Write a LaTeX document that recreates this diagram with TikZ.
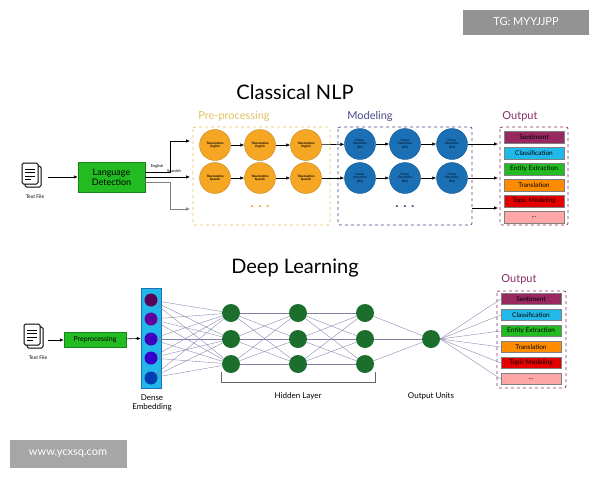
\documentclass[tikz,border=0pt]{standalone}
\usepackage{fontspec}
\setmainfont{Lato}
\usetikzlibrary{arrows.meta}
\definecolor{lgreen}{HTML}{22BB22}
\definecolor{dgreen}{HTML}{1B6E2C}
\definecolor{orng}{HTML}{F5A623}
\definecolor{blu}{HTML}{1A6FB5}
\definecolor{yel}{HTML}{E2C060}
\definecolor{navy}{HTML}{4A4A8A}
\definecolor{purp}{HTML}{8B2D6B}
\definecolor{cyanb}{HTML}{22B8EA}
\tikzset{
 arr/.style={-{Latex[length=4pt,width=3.5pt]},line width=0.6pt},
 tok/.style={circle,minimum size=31pt,inner sep=0,fill=orng,draw=orng!80!black,align=center,font=\fontsize{3}{3.5}\selectfont\bfseries},
 fe/.style={circle,minimum size=31pt,inner sep=0,fill=blu,draw=blu!80!black,align=center,font=\fontsize{3}{3.5}\selectfont,text=black},
 hid/.style={circle,minimum size=18pt,inner sep=0,fill=dgreen},
 emb/.style={circle,minimum size=13pt,inner sep=0,fill=#1},
 out/.style={minimum width=60pt,minimum height=12pt,inner sep=0,fill=#1,draw=gray,font=\fontsize{6.5}{7}\selectfont},
 outs/.style={out=#1,minimum height=11pt},
 nn/.style={draw=navy!70,line width=0.35pt},
 doc/.pic={\draw[line width=1pt,fill=white,rounded corners=1.5pt] (-8,-10) rectangle (8,11);
   \draw[line width=1pt,fill=white,rounded corners=1.5pt] (-11,-13) rectangle (5,8);
   \foreach \yy/\l in {-7/10,-3.5/10,0/10,3.5/6}\draw[line width=1pt] (-8,\yy)--++(\l,0);},
 title/.style={font=\fontsize{20}{22}\selectfont},
 sec/.style={font=\fontsize{11}{12}\selectfont},
 lab/.style={font=\fontsize{8}{9}\selectfont},
}
\begin{document}
\begin{tikzpicture}[x=1pt,y=-1pt]
\useasboundingbox[fill=white] (0,0) rectangle (600,480);
% watermarks
\node[fill=gray!85,text=white,minimum width=126pt,minimum height=25pt,font=\fontsize{11}{12}\selectfont] (wm1) at (526,22) {TG: MYYJJPP};
\node[fill=gray!70,text=white,minimum width=117pt,minimum height=28pt,font=\fontsize{11}{12}\selectfont] (wm2) at (68,454) {www.ycxsq.com};
% ---------- Classical NLP
\node[title] (t1) at (295,92) {Classical NLP};
\pic at (33,176) {doc};
\node[font=\fontsize{5}{6}\selectfont] (tf1) at (35,197) {Text File};
\coordinate (tfr1) at (48,177);
\node[fill=lgreen,draw=lgreen!70!black,minimum width=67pt,minimum height=30pt,align=center,font=\fontsize{9}{10}\selectfont] (ld) at (111.5,177) {Language\\Detection};
\draw[arr] (tfr1) -- (ld);
\draw[dashed,draw=yel,line width=0.7pt,rounded corners=2pt] (193,127) rectangle (330,225);
\node[sec,text=yel] (pp) at (234,116) {Pre-processing};
\draw[dashed,draw=navy,line width=0.7pt,rounded corners=2pt] (338,127) rectangle (472,225);
\node[sec,text=navy] (md) at (370,116) {Modeling};
\draw[dashed,draw=purp,line width=0.7pt,rounded corners=2pt] (500,127) rectangle (568,225);
\node[sec,text=purp] (o1) at (520,116) {Output};
\foreach \i/\x in {1/215,2/260,3/306}{
 \node[tok] (e\i) at (\x,145) {Tokenization\\English};
 \node[tok] (s\i) at (\x,178) {Tokenization\\Spanish};}
\foreach \i/\x in {1/360,2/405,3/452}{
 \node[fe] (fa\i) at (\x,144) {Future\\Extraction\\(EN)};
 \node[fe] (fb\i) at (\x,178) {Future\\Extraction\\(EN)};}
\coordinate (pin1) at (190,141); \coordinate (pin2) at (190,177); \coordinate (pin3) at (190,209);
\draw[arr] (ld.east|-0,172) -- (170,172) |- (pin1);
\draw[arr] (ld.east|-0,177) -- (pin2);
\draw[arr,gray] (ld.east|-0,182) -- (170,182) |- (pin3);
\node[font=\fontsize{4}{4}\selectfont,anchor=south] (en) at (157,171.5) {English};
\node[font=\fontsize{4}{4}\selectfont,anchor=south] (sp) at (174,176.5) {Spanish};
\draw[arr] (e1)--(e2); \draw[arr] (e2)--(e3); \draw[arr] (s1)--(s2); \draw[arr] (s2)--(s3);
\draw[arr] (fa1)--(fa2); \draw[arr] (fa2)--(fa3); \draw[arr] (fb1)--(fb2); \draw[arr] (fb2)--(fb3);
\draw[arr] (e3)--(fa1); \draw[arr] (s3)--(fb1);
\node[text=orng,font=\fontsize{14}{14}\selectfont\bfseries] (d1) at (260,207) {. . .};
\node[text=navy,font=\fontsize{14}{14}\selectfont\bfseries] (d2) at (405,207) {. . .};
\coordinate (m1) at (498,144); \coordinate (m2) at (498,178); \coordinate (m3) at (498,208);
\draw[arr] (fa3) -- (m1); \draw[arr] (fb3) -- (m2); \draw[arr] (472,208) -- (m3);
\node[out=purp!90!red] (a1) at (534,137) {Sentiment};
\node[out=cyanb] (a2) at (534,153) {Classification};
\node[out=lgreen] (a3) at (534,169) {Entity Extraction};
\node[out=orange!90!yellow] (a4) at (534,185) {Translation};
\node[out=red!90!black] (a5) at (534,201) {Topic Modeling};
\node[out=red!35] (a6) at (534,217) {...};
% ---------- Deep Learning
\node[title] (t2) at (295,268) {Deep Learning};
\pic at (35,337) {doc};
\node[font=\fontsize{5}{6}\selectfont] (tf2) at (38,358) {Text File};
\coordinate (tfr2) at (48,340);
\node[fill=lgreen,draw=lgreen!70!black,minimum width=62pt,minimum height=15pt,inner sep=0,font=\fontsize{7}{8}\selectfont] (pr) at (95,340) {Preprocessing};
\draw[arr] (tfr2) -- (pr);
\node[fill=cyanb,draw=blu,minimum width=20pt,minimum height=100pt,inner sep=0] (eb) at (151,338) {};
\draw[arr] (pr) -- (eb);
\foreach \i/\y/\c in {1/300/violet!70!black,2/319/violet!75!blue,3/339/blue!50!violet,4/358/blue!60!violet,5/378/blue!65!cyan!70!black}
  \node[emb=\c] (x\i) at (151,\y) {};
\foreach \j/\x in {1/231,2/298,3/365}
 \foreach \k/\y in {1/313,2/339,3/364}
  \node[hid] (h\j\k) at (\x,\y) {};
\node[hid] (ou) at (431,339) {};
\foreach \i in {1,...,5}\foreach \k in {1,2,3}\draw[nn] (x\i)--(h1\k);
\foreach \a in {1,2,3}\foreach \b in {1,2,3}{\draw[nn] (h1\a)--(h2\b);\draw[nn] (h2\a)--(h3\b);}
\foreach \k in {1,2,3}\draw[nn] (h3\k)--(ou);
\draw[line width=0.6pt,gray!80!black] (221,372) -- (221,382) -- (375,382) -- (375,372);
\node[lab] (hl) at (298,396) {Hidden Layer};
\node[lab,align=center] (de) at (152,403) {Dense\\Embedding};
\node[lab] (ouL) at (431,396) {Output Units};
\draw[dashed,draw=purp,line width=0.7pt,rounded corners=2pt] (497,291) rectangle (566,388);
\node[sec,text=purp] (o2) at (519,279) {Output};
\node[outs=purp!90!red] (b1) at (531,299) {Sentiment};
\node[outs=cyanb] (b2) at (531,315) {Classification};
\node[outs=lgreen] (b3) at (531,331) {Entity Extraction};
\node[outs=orange!90!yellow] (b4) at (531,347) {Translation};
\node[outs=red!90!black] (b5) at (531,363) {Topic Modeling};
\node[outs=red!35] (b6) at (531,379) {...};
\foreach \i in {1,...,6}\draw[nn] (ou.east) -- (b\i.west);
\end{tikzpicture}
\end{document}
